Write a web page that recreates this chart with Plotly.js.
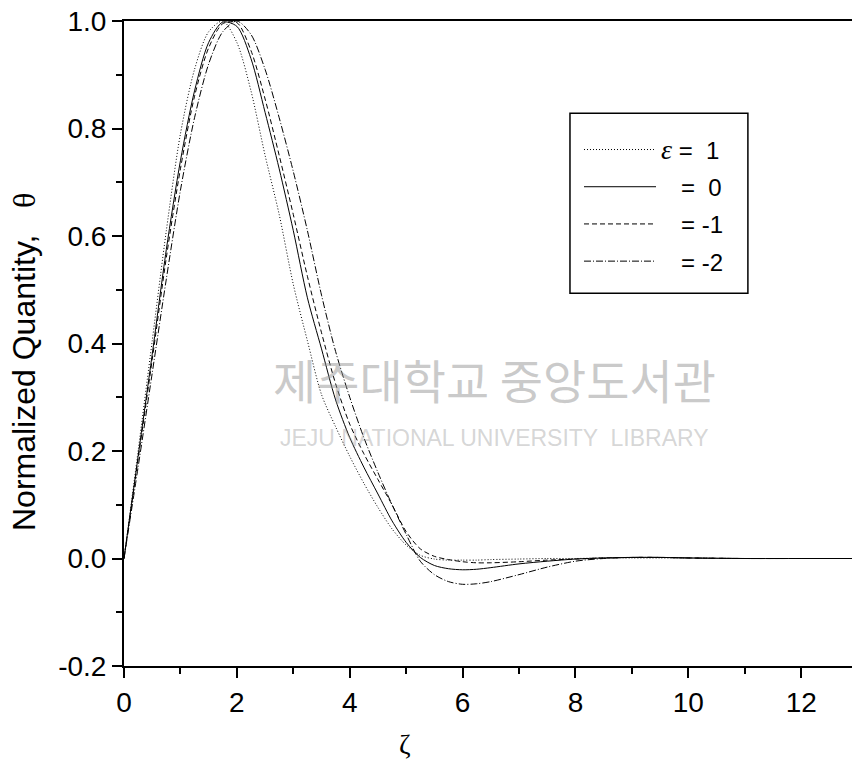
<!DOCTYPE html>
<html>
<head>
<meta charset="utf-8">
<script src="https://cdn.plot.ly/plotly-3.0.1.min.js"></script>
<style>html,body{margin:0;padding:0;background:#fff;}</style>
</head>
<body>
<div id="chart" style="width:852px;height:767px;"></div>
<script>
// Data
const zeta = [0,0.25,0.5,0.75,1,1.25,1.5,1.75,2,2.25,2.5,2.75,3,3.25,3.5,3.75,4,4.25,4.5,4.75,5,5.25,5.5,5.75,6,6.25,6.5,7,7.5,8,8.5,9,9.5,10,11,12,12.9];
const thetaEps1  = [0,0.2,0.405,0.61,0.79,0.91,0.98,1.0,0.96,0.87,0.75,0.64,0.51,0.405,0.305,0.245,0.19,0.14,0.095,0.055,0.025,0.006,-0.001,-0.003,-0.003,-0.003,-0.002,-0.001,0,0,0.001,0.001,0.001,0.001,0,0,0];
const thetaEps0  = [0,0.19,0.38,0.575,0.74,0.87,0.96,0.998,0.99,0.93,0.83,0.725,0.61,0.485,0.39,0.295,0.225,0.17,0.12,0.07,0.03,0.002,-0.013,-0.019,-0.021,-0.02,-0.017,-0.01,-0.005,-0.001,0.001,0.002,0.002,0.001,0,0,0];
const thetaEpsM1 = [0,0.185,0.37,0.56,0.725,0.86,0.95,0.995,0.997,0.945,0.855,0.75,0.64,0.525,0.42,0.325,0.25,0.195,0.147,0.1,0.05,0.018,0.004,-0.002,-0.006,-0.008,-0.008,-0.006,-0.003,-0.001,0.001,0.002,0.002,0.001,0,0,0];
const thetaEpsM2 = [0,0.17,0.345,0.52,0.685,0.82,0.92,0.98,1.0,0.975,0.91,0.82,0.72,0.61,0.49,0.385,0.3,0.225,0.16,0.1,0.045,-0.005,-0.03,-0.043,-0.048,-0.047,-0.043,-0.03,-0.016,-0.005,0.0,0.002,0.002,0.001,0,0,0];
const legendNames = [
  '<span style="font-family:Liberation Serif;font-size:28px"><i>ε</i></span> =\u00A0\u00A01',
  '\u00A0\u00A0\u00A0=\u00A0\u00A00',
  '\u00A0\u00A0\u00A0=\u00A0-1',
  '\u00A0\u00A0\u00A0=\u00A0-2'
];
const xTickVals = [0,2,4,6,8,10,12];
const yTickVals = [-0.2,0,0.2,0.4,0.6,0.8,1.0];

const series = [thetaEps1, thetaEps0, thetaEpsM1, thetaEpsM2];
const dashes = ['1px,2px', 'solid', '5px,3px', '7px,2px,1px,2px'];
const traces = series.map((ys, i) => ({
  x: zeta, y: ys, type: 'scatter', mode: 'lines', name: legendNames[i],
  legendgroup: 'g' + i,
  line: {color: '#000', width: 1, dash: dashes[i], shape: 'spline', smoothing: 0.8}
}));

const axisFont = {family: 'Liberation Sans, Arial, sans-serif', size: 28, color: '#000'};
const layout = {
  width: 852, height: 767,
  margin: {l: 124, r: 0, t: 21, b: 101, pad: 0},
  paper_bgcolor: '#fff', plot_bgcolor: '#fff',
  font: axisFont,
  showlegend: true,
  legend: {
    x: 0.625, y: 0.835, xanchor: 'left', yanchor: 'top',
    bgcolor: 'rgba(0,0,0,0)', borderwidth: 0,
    font: {family: 'Liberation Sans, Arial, sans-serif', size: 24, color: '#000'},
    itemwidth: 72, tracegroupgap: 3, traceorder: 'grouped'
  },
  xaxis: {
    range: [0, 12.9], showline: true, linecolor: '#000', linewidth: 2, mirror: true,
    ticks: 'outside', ticklen: 10, tickwidth: 2, tickcolor: '#000',
    tickvals: xTickVals, ticktext: xTickVals.map(String),
    minor: {dtick: 1, tick0: 0, ticks: 'outside', ticklen: 6, tickwidth: 2, tickcolor: '#000'},
    showgrid: false, zeroline: false, tickfont: axisFont
  },
  yaxis: {
    range: [-0.2, 1.0], showline: true, linecolor: '#000', linewidth: 2, mirror: false,
    ticks: 'outside', ticklen: 10, tickwidth: 2, tickcolor: '#000',
    tickvals: yTickVals, ticktext: yTickVals.map(v => v.toFixed(1)),
    minor: {dtick: 0.1, tick0: 0, ticks: 'outside', ticklen: 6, tickwidth: 2, tickcolor: '#000'},
    showgrid: false, zeroline: false, tickfont: axisFont
  },
  shapes: [
    {type: 'rect', xref: 'paper', yref: 'paper', x0: 0.6126, x1: 0.857, y0: 0.578, y1: 0.857,
     line: {color: '#000', width: 1.5}, fillcolor: 'rgba(0,0,0,0)', layer: 'above'}
  ],
  annotations: [
    {text: 'Normalized Quantity,\u00A0\u00A0\u00A0<span style="font-family:Liberation Serif">θ</span>',
     xref: 'paper', yref: 'paper', x: (24 - 124) / 728, y: (666 - 362) / 645, textangle: -90,
     xanchor: 'center', yanchor: 'middle', showarrow: false,
     font: {family: 'Liberation Sans, Arial, sans-serif', size: 32, color: '#000'}},
    {text: 'ζ', xref: 'paper', yref: 'paper', x: (405 - 124) / 728, y: -0.122, xanchor: 'center', yanchor: 'middle',
     showarrow: false, font: {family: 'Liberation Serif, Times New Roman, serif', size: 28, color: '#000'}},
    {text: '제주대학교 중앙도서관', xref: 'paper', yref: 'paper', x: (494 - 124) / 728, y: (666 - 378) / 645,
     xanchor: 'center', yanchor: 'middle', showarrow: false,
     font: {family: 'Noto Sans CJK KR, sans-serif', size: 47, color: 'rgba(150,150,150,0.5)'}},
    {text: 'JEJU NATIONAL UNIVERSITY  LIBRARY', xref: 'paper', yref: 'paper', x: (494 - 124) / 728, y: (666 - 438) / 645,
     xanchor: 'center', yanchor: 'middle', showarrow: false,
     font: {family: 'Liberation Sans, Arial, sans-serif', size: 23, color: 'rgba(150,150,150,0.4)'}}
  ]
};

Plotly.newPlot('chart', traces, layout, {displayModeBar: false, staticPlot: true});
</script>
</body>
</html>
